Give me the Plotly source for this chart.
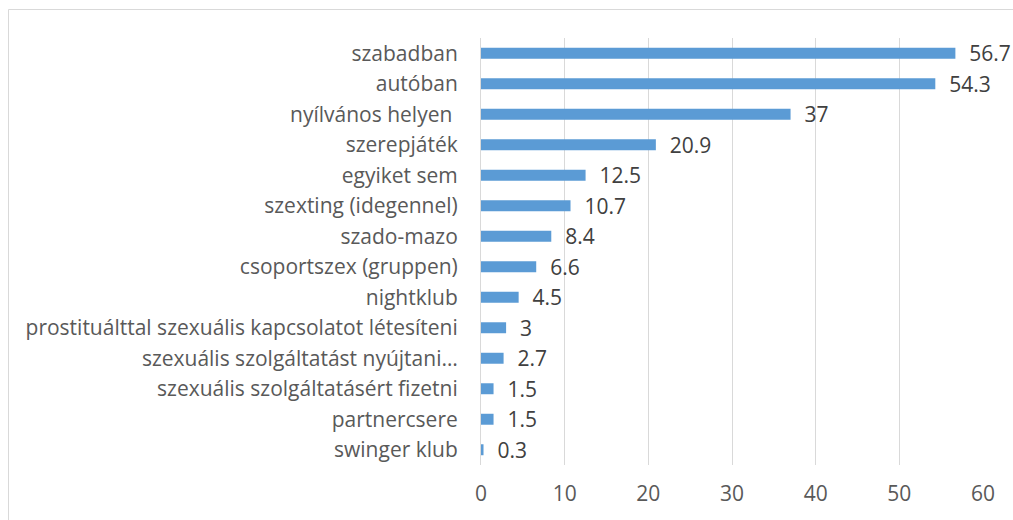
import plotly.graph_objects as go

categories = [
    "szabadban",
    "autóban",
    "nyílvános helyen ",
    "szerepjáték",
    "egyiket sem",
    "szexting (idegennel)",
    "szado-mazo",
    "csoportszex (gruppen)",
    "nightklub",
    "prostituálttal szexuális kapcsolatot létesíteni",
    "szexuális szolgáltatást nyújtani…",
    "szexuális szolgáltatásért fizetni",
    "partnercsere",
    "swinger klub",
]
values = [56.7, 54.3, 37, 20.9, 12.5, 10.7, 8.4, 6.6, 4.5, 3, 2.7, 1.5, 1.5, 0.3]
x_ticks = [0, 10, 20, 30, 40, 50, 60]

BAR = "#5B9BD5"
GRID = "#D9D9D9"
FONT = "'Open Sans', 'Noto Sans', sans-serif"
FS = 21

W, H = 1013, 520
ml, mr, mt, mb = 481, W - 983, 38, H - 465

fig = go.Figure()
fig.add_trace(go.Bar(
    x=values, y=categories, orientation="h",
    marker=dict(color=BAR, line=dict(width=0)),
    width=0.36, cliponaxis=False, hoverinfo="x+y",
    texttemplate="\u00a0\u00a0%{x}", textposition="outside",
    constraintext="none",
    textfont=dict(family=FONT, size=FS, color="#404040"),
))

pw = W - ml - mr
ph = H - mt - mb
fig.add_shape(type="rect", xref="paper", yref="paper",
              x0=(8.5 - ml) / pw, x1=(W + 20 - ml) / pw,
              y0=(H - mb - (H + 20)) / ph, y1=(H - mb - 9.5) / ph,
              line=dict(color=GRID, width=1), fillcolor="rgba(0,0,0,0)", layer="below")

fig.update_layout(
    width=W, height=H,
    margin=dict(l=ml, r=mr, t=mt, b=mb, autoexpand=False),
    paper_bgcolor="white", plot_bgcolor="white",
    showlegend=False,
    font=dict(family=FONT, size=FS, color="#595959"),
    xaxis=dict(range=[0, 60], tickvals=x_ticks, showgrid=True, gridcolor=GRID,
               gridwidth=1, zeroline=False, showline=False, ticks="",
               ticklabelstandoff=14, tickfont=dict(size=FS, color="#595959")),
    yaxis=dict(autorange="reversed", showline=True, linecolor=GRID, linewidth=1,
               ticks="", ticklabelstandoff=18, tickfont=dict(size=FS, color="#595959")),
)

fig.write_html("out.html", config={"displayModeBar": False},
               post_script="document.body.style.margin='0';")
